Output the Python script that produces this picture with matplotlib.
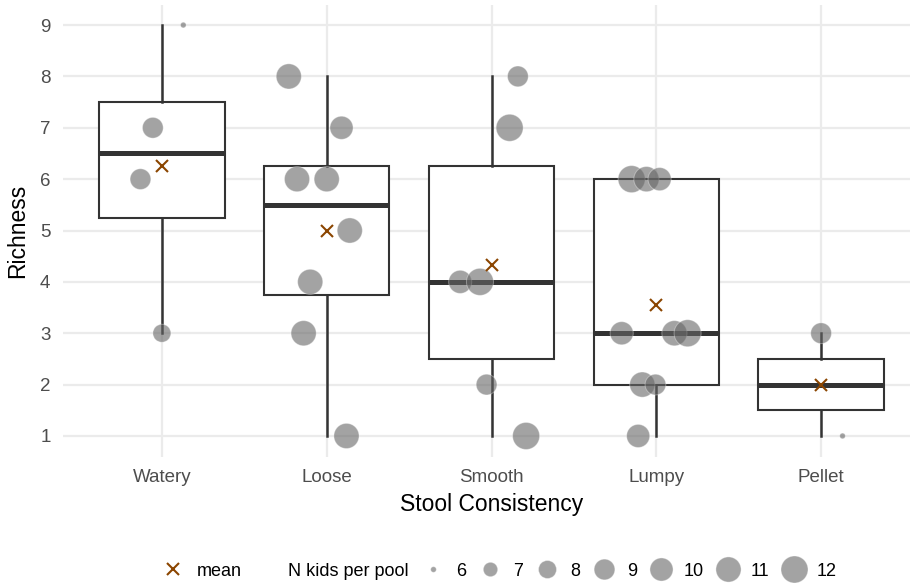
import numpy as np
import matplotlib
matplotlib.use("Agg")
import matplotlib.pyplot as plt
from matplotlib.lines import Line2D

plt.rcParams['font.family'] = ['Liberation Sans', 'DejaVu Sans']

# categories and per-pool observations
categories = ["Watery", "Loose", "Smooth", "Lumpy", "Pellet"]

richness = [
    [9, 7, 6, 3],
    [8, 7, 6, 6, 5, 4, 3, 1],
    [8, 7, 4, 4, 2, 1],
    [6, 6, 6, 3, 3, 3, 2, 2, 1],
    [3, 1],
]
n_kids = [
    [6, 9, 9, 8],
    [11, 10, 11, 11, 11, 11, 11, 11],
    [9, 12, 10, 12, 9, 12],
    [12, 11, 10, 10, 11, 12, 11, 9, 10],
    [9, 6],
]
# horizontal jitter (category units)
jitter = [
    [0.13, -0.055, -0.13, 0.0],
    [-0.23, 0.09, -0.18, 0.0, 0.14, -0.10, -0.14, 0.12],
    [0.16, 0.11, -0.19, -0.07, -0.03, 0.21],
    [-0.15, -0.06, 0.02, -0.21, 0.11, 0.19, -0.085, -0.005, -0.11],
    [0.0, 0.13],
]
legend_sizes = [6, 7, 8, 9, 10, 11, 12]

DPI = 100


def diam_px(n):
    # ggplot-like area scale, size range 1..6
    n = np.asarray(n, dtype=float)
    sz = 1 + 5 * np.sqrt((n - 6) / 6)
    return 1.5 * (sz * 2.845 + 0.945)


def s_area(n):
    return (diam_px(n) * 72 / DPI) ** 2


pt_face = (0.40, 0.40, 0.40, 0.6)
pt_edge = (1, 1, 1, 0.35)
mean_col = "#8B4500"
box_col = "#333333"

fig = plt.figure(figsize=(9.1, 5.85), dpi=DPI)
ax = fig.add_axes([63 / 910, 1 - 456.5 / 585, (920 - 63) / 910, (456.5 - 4.5) / 585])

pos = np.arange(1, len(categories) + 1)
ax.boxplot(richness, positions=pos, widths=0.76, patch_artist=True,
           showcaps=False, showfliers=False, whis=1.5,
           boxprops=dict(facecolor="white", edgecolor=box_col, linewidth=1.5),
           whiskerprops=dict(color=box_col, linewidth=1.8),
           medianprops=dict(color=box_col, linewidth=3.6, solid_capstyle="butt"),
           zorder=2)

for i, (vals, nk, jit) in enumerate(zip(richness, n_kids, jitter)):
    x = pos[i] + np.array(jit)
    ax.scatter(x, vals, s=s_area(nk), facecolor=pt_face, edgecolor=pt_edge,
               linewidth=0.7, zorder=3)
    ax.plot(pos[i], np.mean(vals), marker="x", color=mean_col, ms=8, mew=1.5,
            linestyle="none", zorder=4)

ax.set_xlim(0.4, 5.6)
ax.set_ylim(0.6, 9.4)
ax.set_xticks(pos)
ax.set_xticklabels(categories)
ax.set_yticks(range(1, 10))
ax.grid(True, color="#EBEBEB", linewidth=1.6, zorder=0)
ax.set_axisbelow(True)
for sp in ax.spines.values():
    sp.set_visible(False)
ax.tick_params(axis="both", length=0, labelsize=13.5, labelcolor="#4D4D4D")
ax.tick_params(axis="y", pad=9)
ax.tick_params(axis="x", pad=9)
ax.set_xlabel("Stool Consistency", fontsize=16.5, labelpad=5)
ax.set_ylabel("Richness", fontsize=16.5, labelpad=8)

# legend: mean marker, size title, size keys in one row
handles = [Line2D([], [], marker="x", color=mean_col, ms=8, mew=1.5, linestyle="none"),
           Line2D([], [], linestyle="none")]
labels = ["mean", "N kids per pool"]
for n in legend_sizes:
    handles.append(Line2D([], [], marker="o", linestyle="none",
                          ms=float(diam_px(n)) * 72 / DPI,
                          markerfacecolor=pt_face, markeredgecolor=pt_edge, mew=0.7))
    labels.append(str(n))
fig.legend(handles, labels, loc="center", bbox_to_anchor=(498 / 910, 1 - 571 / 585),
           ncol=len(handles), frameon=False, fontsize=13, handlelength=1.55,
           handletextpad=0.5, columnspacing=0.55, borderpad=0)

fig.savefig("out.png", dpi=DPI)
